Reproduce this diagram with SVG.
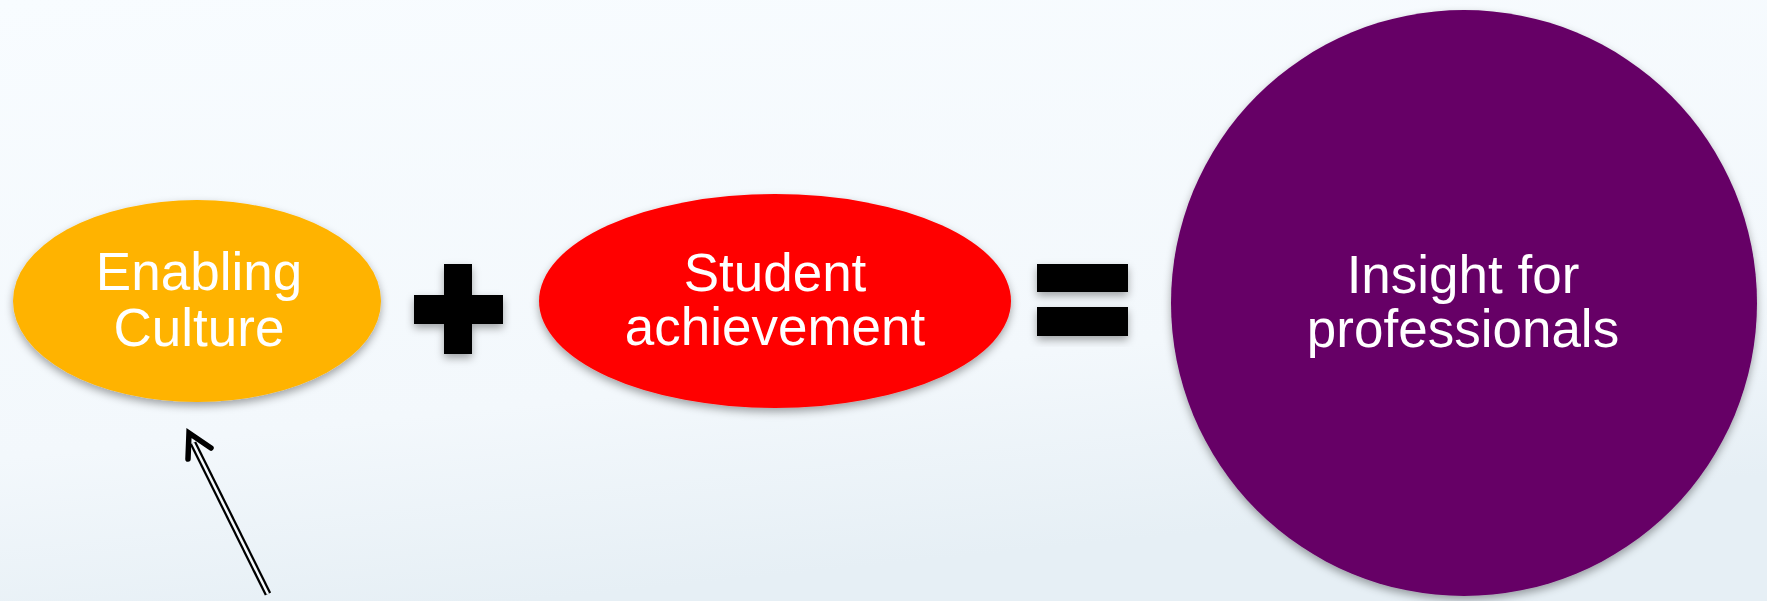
<svg xmlns="http://www.w3.org/2000/svg" width="1767" height="601" viewBox="0 0 1767 601">
<defs>
<linearGradient id="bg" x1="0" y1="0" x2="0.3" y2="1">
<stop offset="0" stop-color="#F8FCFF"/>
<stop offset="0.7" stop-color="#F3F8FC"/>
<stop offset="1" stop-color="#E6EFF5"/>
</linearGradient>
<filter id="sh" x="-10%" y="-10%" width="120%" height="125%">
<feDropShadow dx="0" dy="4" stdDeviation="4" flood-color="#000" flood-opacity="0.35"/>
</filter>
</defs>
<style>
.lbl{font-family:"Liberation Sans",Arial,sans-serif;font-size:53px;fill:#FFFFFF;text-anchor:middle}
.op{fill:#000000}
</style>
<rect x="0" y="0" width="1767" height="601" fill="url(#bg)"/>
<g id="enabling-culture">
<ellipse cx="197" cy="301" rx="184" ry="101" fill="#FFB300" filter="url(#sh)"/>
<text class="lbl" x="199" y="290">Enabling</text>
<text class="lbl" x="199" y="346">Culture</text>
</g>
<g id="plus" filter="url(#sh)">
<rect class="op" x="444" y="264" width="28" height="90"/>
<rect class="op" x="414" y="295" width="89" height="29"/>
</g>
<g id="student-achievement">
<ellipse cx="775" cy="301" rx="236" ry="107" fill="#FF0000" filter="url(#sh)"/>
<text class="lbl" x="775" y="291">Student</text>
<text class="lbl" x="775" y="345">achievement</text>
</g>
<g id="equals" filter="url(#sh)">
<rect class="op" x="1037" y="264" width="91" height="28"/>
<rect class="op" x="1037" y="307" width="91" height="29"/>
</g>
<g id="insight-for-professionals">
<circle cx="1464" cy="303" r="293" fill="#660066" filter="url(#sh)"/>
<text class="lbl" x="1463" y="293">Insight for</text>
<text class="lbl" x="1463" y="347">professionals</text>
</g>
<g id="connectors">
<line x1="268" y1="594" x2="193" y2="443" stroke="#000" stroke-width="7"/>
<line x1="268" y1="594" x2="193" y2="443" stroke="#F5FAFD" stroke-width="2.5"/>
<polyline points="188,459 189,433 211,448" fill="none" stroke="#000" stroke-width="5.5" stroke-linecap="round" stroke-linejoin="miter"/>
</g>
</svg>
